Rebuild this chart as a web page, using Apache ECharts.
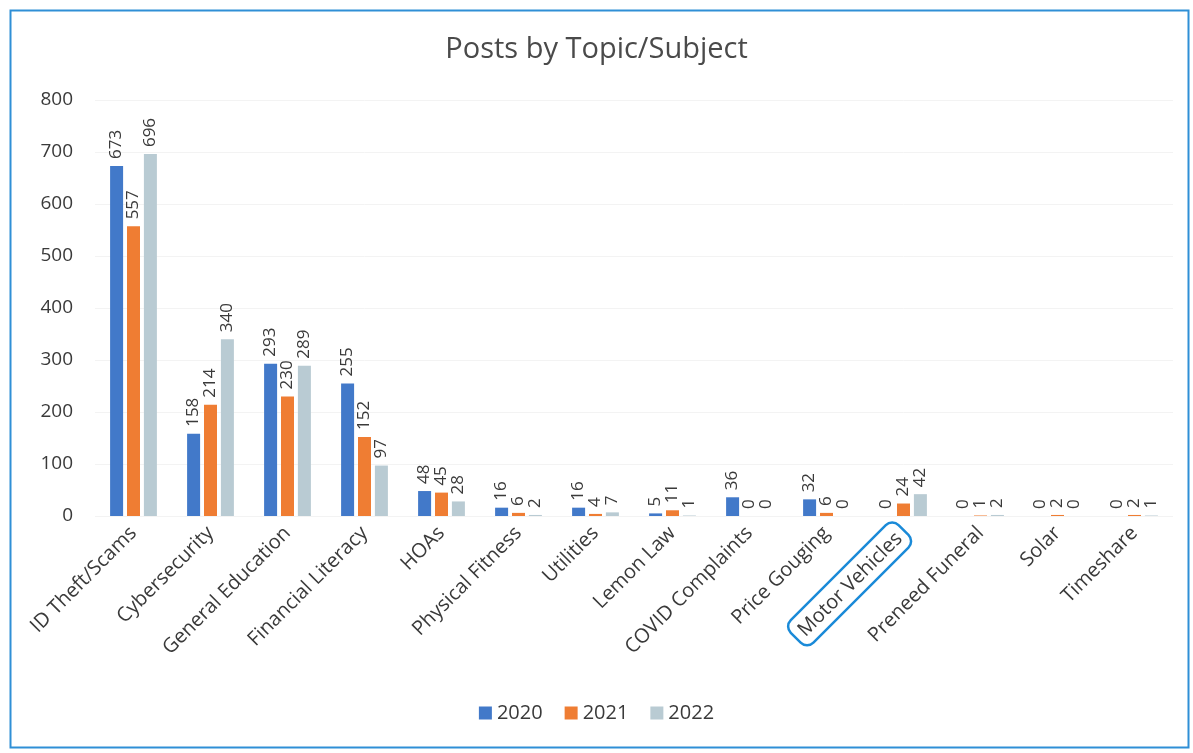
<!DOCTYPE html>
<html>
<head>
<meta charset="utf-8">
<script src="https://cdn.jsdelivr.net/npm/echarts@6/dist/echarts.min.js"></script>
<style>
  html, body { margin: 0; padding: 0; background: #fff; }
  #chart { width: 1193px; height: 753px; }
</style>
</head>
<body>
<div id="chart"></div>
<script>
// Topics and post counts per year
const categories = [
  'ID Theft/Scams', 'Cybersecurity', 'General Education', 'Financial Literacy',
  'HOAs', 'Physical Fitness', 'Utilities', 'Lemon Law', 'COVID Complaints',
  'Price Gouging', 'Motor Vehicles', 'Preneed Funeral', 'Solar', 'Timeshare'
];
const years = ['2020', '2021', '2022'];
const posts2020 = [673, 158, 293, 255, 48, 16, 16, 5, 36, 32, 0, 0, 0, 0];
const posts2021 = [557, 214, 230, 152, 45, 6, 4, 11, 0, 6, 24, 1, 2, 2];
const posts2022 = [696, 340, 289, 97, 28, 2, 7, 1, 0, 0, 42, 2, 0, 1];
const yTicks = [0, 100, 200, 300, 400, 500, 600, 700, 800];
const highlighted = 'Motor Vehicles';

const colors = ['#4279c9', '#ef7d33', '#b9cbd3'];
const fontFamily = '"Open Sans", Lato, "Noto Sans", sans-serif';
const textColor = '#3a3a3a';

const chart = echarts.init(document.getElementById('chart'));

function barSeries(name, data, color) {
  return {
    name: name,
    type: 'bar',
    data: data,
    barWidth: 13,
    barGap: '30%',
    itemStyle: { color: color },
    label: {
      show: true,
      position: 'top',
      rotate: 90,
      align: 'left',
      verticalAlign: 'middle',
      distance: 7,
      color: textColor,
      fontSize: 17,
      fontFamily: fontFamily
    }
  };
}

chart.setOption({
  animation: false,
  backgroundColor: '#ffffff',
  title: {
    text: 'Posts by Topic/Subject',
    left: 'center',
    top: 30,
    textStyle: { fontFamily: fontFamily, fontSize: 29, fontWeight: 'normal', color: '#4a4a4a' }
  },
  legend: {
    data: years,
    bottom: 25,
    left: 'center',
    itemWidth: 13,
    itemHeight: 13,
    itemGap: 22,
    icon: 'rect',
    textStyle: { fontFamily: fontFamily, fontSize: 20, color: textColor }
  },
  grid: { left: 95, right: 20, top: 100, bottom: 237, containLabel: false },
  xAxis: {
    type: 'category',
    data: categories,
    axisLine: { show: false },
    axisTick: { show: false },
    axisLabel: {
      interval: 0,
      rotate: 45,
      margin: 14,
      fontFamily: fontFamily,
      fontSize: 20,
      color: textColor,
      formatter: function (v) { return v === highlighted ? '{box|' + v + '}' : v; },
      rich: {
        box: {
          fontFamily: fontFamily,
          fontSize: 20,
          color: textColor,
          borderColor: '#1a8ad8',
          borderWidth: 2.5,
          borderRadius: 9,
          padding: [7, 7, 5, 7]
        }
      }
    }
  },
  yAxis: {
    type: 'value',
    min: yTicks[0],
    max: yTicks[yTicks.length - 1],
    interval: 100,
    axisLine: { show: false },
    axisTick: { show: false },
    splitLine: { lineStyle: { color: '#f3f3f3', width: 1 } },
    axisLabel: { margin: 22, fontFamily: fontFamily, fontSize: 19, color: textColor }
  },
  series: [
    barSeries(years[0], posts2020, colors[0]),
    barSeries(years[1], posts2021, colors[1]),
    barSeries(years[2], posts2022, colors[2])
  ],
  graphic: [{
    type: 'rect',
    left: 8,
    top: 8,
    shape: { width: 1178, height: 737 },
    style: { fill: 'none', stroke: '#2f8fd6', lineWidth: 2 },
    silent: true
  }]
});
</script>
</body>
</html>
